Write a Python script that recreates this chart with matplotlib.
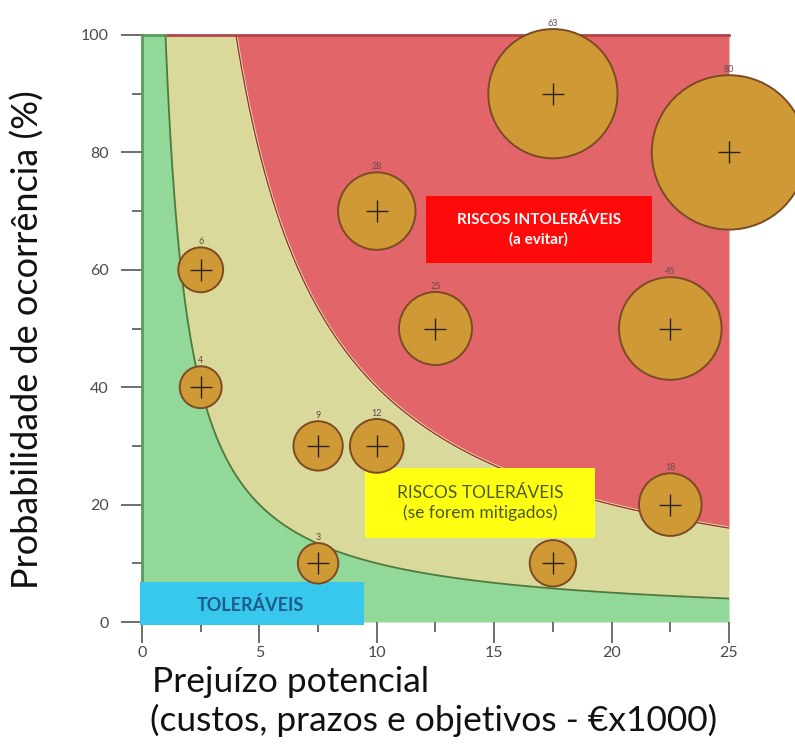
import numpy as np
import matplotlib
matplotlib.use("Agg")
import matplotlib.pyplot as plt
from matplotlib.patches import Rectangle

# Risks: potential loss (k€), probability (%), risk score shown above each bubble
loss = [2.5, 2.5, 7.5, 10, 7.5, 17.5, 10, 12.5, 17.5, 25, 22.5, 22.5]
prob = [60, 40, 30, 30, 10, 10, 70, 50, 90, 80, 50, 20]
score = [6, 4, 9, 12, 3, 7, 28, 25, 63, 80, 45, 18]
score_labels = ["6", "4", "9", "12", "3", "", "28", "25", "63", "80", "45", "18"]

# Iso-risk thresholds (loss x probability)
TOLERABLE_LIMIT = 100
MITIGABLE_LIMIT = 400

x_ticks = [0, 5, 10, 15, 20, 25]
y_ticks = [0, 20, 40, 60, 80, 100]

FONT = "Lato"

fig = plt.figure(figsize=(7.95, 7.47), dpi=100)
ax = fig.add_axes([142 / 795, 1 - 622 / 747, 587 / 795, 587 / 747])
ax.set_xlim(0, 25)
ax.set_ylim(0, 100)

xs = np.linspace(0.001, 25, 2000)
low = np.minimum(TOLERABLE_LIMIT / xs, 100)
high = np.minimum(MITIGABLE_LIMIT / xs, 100)

ax.fill_between(xs, 0, low, color="#92d898", lw=0, zorder=1)
ax.fill_between(xs, low, high, color="#d9d99b", lw=0, zorder=1)
ax.fill_between(xs, high, 100, color="#e2656a", lw=0, zorder=1)
ax.plot(xs, low, color="#4d7a3c", lw=1.3, zorder=2)
ax.plot(xs, high, color="#f2e2b0", lw=2.2, zorder=2)
ax.plot(xs, high, color="#8c3a30", lw=1.0, zorder=2)
ax.plot([0, 0], [0, 100], color="#5a9a5a", lw=2, zorder=2, clip_on=False)
ax.plot([1, 25], [100, 100], color="#b04448", lw=2, zorder=2, clip_on=False)
ax.plot([0, 1], [100, 100], color="#5a9a5a", lw=2, zorder=2, clip_on=False)

# Zone labels
ax.add_patch(Rectangle((12.1, 61.2), 9.6, 11.4, color="#ff0a0a", lw=0, zorder=3))
ax.text(16.9, 66.9, "RISCOS INTOLERÁVEIS\n(a evitar)", ha="center", va="center",
        color="white", fontsize=11, fontweight="bold", family=FONT,
        linespacing=1.45, zorder=4)
ax.add_patch(Rectangle((9.5, 14.3), 9.8, 11.9, color="#ffff14", lw=0, zorder=3))
ax.text(14.4, 20.25, "RISCOS TOLERÁVEIS\n(se forem mitigados)", ha="center", va="center",
        color="#4b5a1a", fontsize=12.5, family=FONT, linespacing=1.3, zorder=4)
ax.add_patch(Rectangle((-0.1, -0.5), 9.55, 7.3, color="#38c8ee", lw=0, zorder=3,
                       clip_on=False))
ax.text(4.6, 2.9, "TOLERÁVEIS", ha="center", va="center",
        color="#1f5a8a", fontsize=13, fontweight="bold", family=FONT, zorder=4)

# Bubbles: radius grows linearly with risk score
radius_px = [18 + 0.74 * s for s in score]
sizes = [(2 * r * 72 / 100) ** 2 for r in radius_px]
ax.scatter(loss, prob, s=sizes, c="#cf9a36", edgecolors="#7d4a24", linewidths=1.4,
           zorder=5, clip_on=False)
ax.scatter(loss, prob, s=240, marker="+", c="#2a2010", linewidths=1.0,
           zorder=6, clip_on=False)
for x, y, r, lab in zip(loss, prob, radius_px, score_labels):
    ax.annotate(lab, (x, y), xytext=(0, r * 0.72 + 4), textcoords="offset points",
                ha="center", va="center", fontsize=6.5, color="#6a4a4a",
                family=FONT, zorder=7, annotation_clip=False)

for s in ax.spines.values():
    s.set_visible(False)

ax.set_xticks(x_ticks)
ax.set_xticks([2.5, 7.5, 12.5, 17.5, 22.5], minor=True)
ax.set_yticks(y_ticks)
ax.set_yticks([10, 30, 50, 70, 90], minor=True)
ax.tick_params(axis="both", which="major", length=15, width=1.2, color="#555555",
               labelsize=11.5, labelcolor="#4a4a4a")
ax.tick_params(axis="x", which="major", pad=2)
ax.tick_params(axis="y", which="major", pad=9)
ax.tick_params(axis="both", which="minor", length=7, width=1.2, color="#555555")
for lab in ax.get_xticklabels() + ax.get_yticklabels():
    lab.set_family(FONT)

fig.text(28 / 795, 1 - 340 / 747, "Probabilidade de ocorrência (%)", rotation=90,
         ha="center", va="center", fontsize=26, family=FONT, color="#111111")
fig.text(152 / 795, 1 - 682 / 747, "Prejuízo potencial", ha="left", va="center",
         fontsize=25.5, family=FONT, color="#111111")
fig.text(150 / 795, 1 - 720 / 747, "(custos, prazos e objetivos - €x1000)", ha="left",
         va="center", fontsize=25.5, family=FONT, color="#111111")

fig.savefig("out.png", dpi=100)
